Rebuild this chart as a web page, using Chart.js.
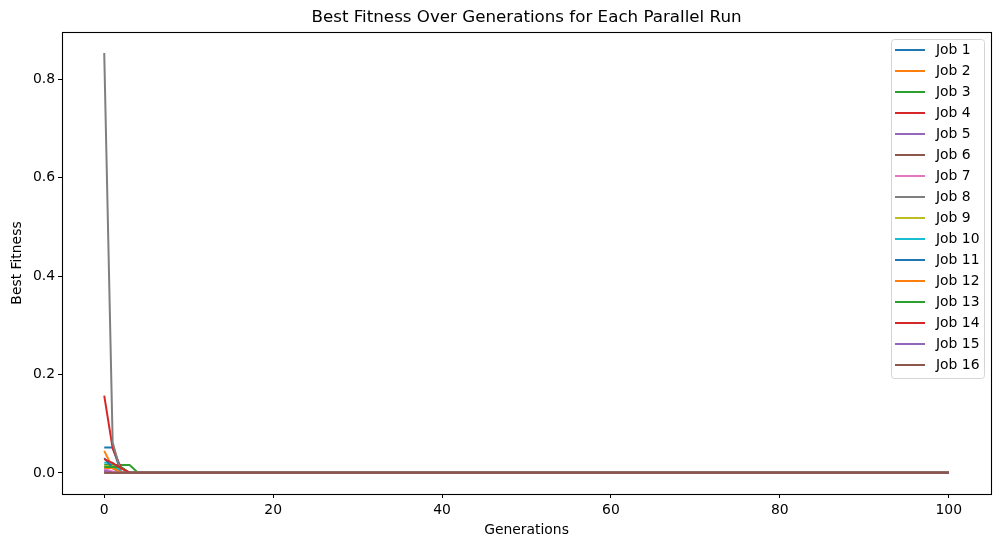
<!DOCTYPE html>
<html>
<head>
<meta charset="utf-8">
<script src="https://cdn.jsdelivr.net/npm/chart.js@4/dist/chart.umd.min.js"></script>
<style>
html,body{margin:0;padding:0;background:#fff;}
#wrap{width:1001px;height:547px;position:relative;}
</style>
</head>
<body>
<div id="wrap"><canvas id="c" width="1001" height="547"></canvas></div>
<script>
// ---- data ----
const jobLabels = ["Job 1","Job 2","Job 3","Job 4","Job 5","Job 6","Job 7","Job 8",
  "Job 9","Job 10","Job 11","Job 12","Job 13","Job 14","Job 15","Job 16"];
const jobColors = ["#1f77b4","#ff7f0e","#2ca02c","#d62728","#9467bd","#8c564b","#e377c2","#7f7f7f",
  "#bcbd22","#17becf","#1f77b4","#ff7f0e","#2ca02c","#d62728","#9467bd","#8c564b"];
const numGenerations = 101; // generations 0..100
// early generations (before each run settles on its plateau)
const job1Early  = [0.052, 0.052];
const job2Early  = [0.045, 0.010];
const job3Early  = [0.016, 0.016, 0.016, 0.016];
const job4Early  = [0.157, 0.050, 0.010];
const job5Early  = [0.005];
const job6Early  = [0.0005];
const job7Early  = [0.008, 0.003];
const job8Early  = [0.853, 0.062];
const job9Early  = [0.014, 0.014];
const job10Early = [0.021, 0.021];
const job11Early = [0.030, 0.010];
const job12Early = [0.010, 0.010];
const job13Early = [0.012, 0.012, 0.012];
const job14Early = [0.028, 0.020, 0.010];
const job15Early = [0.004];
const job16Early = [0.0005];
// flat value each run holds for the rest of the generations
const plateauValues = [0.0005,0.0005,0.0005,0.0005,0.0005,0.0005,0.0005,0.0005,
  0.0005,0.0005,0.0005,0.0005,0.0005,0.0005,0.0005,0.0003];
const xTicks = [0, 20, 40, 60, 80, 100];
const yTicks = [0.0, 0.2, 0.4, 0.6, 0.8];

const earlyAll = [job1Early,job2Early,job3Early,job4Early,job5Early,job6Early,job7Early,job8Early,
  job9Early,job10Early,job11Early,job12Early,job13Early,job14Early,job15Early,job16Early];

const datasets = earlyAll.map((early, i) => {
  const pts = [];
  for (let g = 0; g < numGenerations; g++) {
    pts.push({x: g, y: g < early.length ? early[g] : plateauValues[i]});
  }
  return {
    label: jobLabels[i], data: pts, borderColor: jobColors[i], backgroundColor: jobColors[i],
    borderWidth: 2, pointRadius: 0, tension: 0, fill: false, order: jobLabels.length - i,
    borderCapStyle: 'butt', borderJoinStyle: 'round'
  };
});

const FONT = "'DejaVu Sans', sans-serif";

const framePlugin = {
  id: 'frame',
  afterDraw(chart) {
    const ctx = chart.ctx, a = chart.chartArea;
    ctx.save();
    ctx.strokeStyle = '#000'; ctx.lineWidth = 1.1;
    ctx.strokeRect(Math.round(a.left)+0.5, Math.round(a.top)+0.5, Math.round(a.right-a.left), Math.round(a.bottom-a.top));
    ctx.fillStyle = '#000';
    ctx.font = '16.7px ' + FONT;
    ctx.textAlign = 'center'; ctx.textBaseline = 'middle';
    ctx.fillText('Best Fitness Over Generations for Each Parallel Run', (a.left + a.right)/2, 17.5);
    ctx.font = '13.9px ' + FONT;
    ctx.fillText('Generations', (a.left + a.right)/2, 530);
    ctx.save();
    ctx.translate(17, (a.top + a.bottom)/2);
    ctx.rotate(-Math.PI/2);
    ctx.fillText('Best Fitness', 0, 0);
    ctx.restore();
    // legend
    const lx = 891.5, ly = 39.5, lw = 93, lh = 339, r = 3;
    ctx.beginPath();
    ctx.moveTo(lx + r, ly);
    ctx.lineTo(lx + lw - r, ly); ctx.quadraticCurveTo(lx + lw, ly, lx + lw, ly + r);
    ctx.lineTo(lx + lw, ly + lh - r); ctx.quadraticCurveTo(lx + lw, ly + lh, lx + lw - r, ly + lh);
    ctx.lineTo(lx + r, ly + lh); ctx.quadraticCurveTo(lx, ly + lh, lx, ly + lh - r);
    ctx.lineTo(lx, ly + r); ctx.quadraticCurveTo(lx, ly, lx + r, ly);
    ctx.closePath();
    ctx.fillStyle = 'rgba(255,255,255,0.8)'; ctx.fill();
    ctx.strokeStyle = '#d5d5d5'; ctx.lineWidth = 1; ctx.stroke();
    ctx.textAlign = 'left'; ctx.textBaseline = 'middle';
    ctx.font = '13.9px ' + FONT;
    chart.data.datasets.forEach((ds, i) => {
      const y = 50 + i * 21;
      ctx.strokeStyle = ds.borderColor; ctx.lineWidth = 2;
      ctx.beginPath(); ctx.moveTo(895, y); ctx.lineTo(925, y); ctx.stroke();
      ctx.fillStyle = '#000';
      ctx.fillText(ds.label, 936, y + 0.5);
    });
    ctx.restore();
  }
};

new Chart(document.getElementById('c'), {
  type: 'line',
  data: { datasets },
  options: {
    responsive: false, animation: false, devicePixelRatio: 1,
    layout: { padding: { top: 32, right: 10, left: 0, bottom: 0 } },
    plugins: { legend: { display: false }, tooltip: { enabled: false }, title: { display: false } },
    scales: {
      x: {
        type: 'linear', min: -5, max: 105,
        afterBuildTicks: (s) => { s.ticks = xTicks.map(v => ({value: v})); },
        afterFit: (s) => { s.height = 53; },
        grid: { display: true, drawOnChartArea: false, drawTicks: true, tickLength: 4, tickColor: '#000', color: '#000' },
        border: { display: false },
        ticks: { color: '#000', font: { family: FONT, size: 13.9 }, padding: 4, maxRotation: 0,
          callback: (v) => String(v) }
      },
      y: {
        type: 'linear', min: -0.0427, max: 0.8957,
        afterBuildTicks: (s) => { s.ticks = yTicks.map(v => ({value: v})); },
        afterFit: (s) => { s.width = 62; },
        grid: { display: true, drawOnChartArea: false, drawTicks: true, tickLength: 4, tickColor: '#000', color: '#000' },
        border: { display: false },
        ticks: { color: '#000', font: { family: FONT, size: 13.9 }, padding: 3,
          callback: (v) => v.toFixed(1) }
      }
    }
  },
  plugins: [framePlugin]
});
</script>
</body>
</html>
